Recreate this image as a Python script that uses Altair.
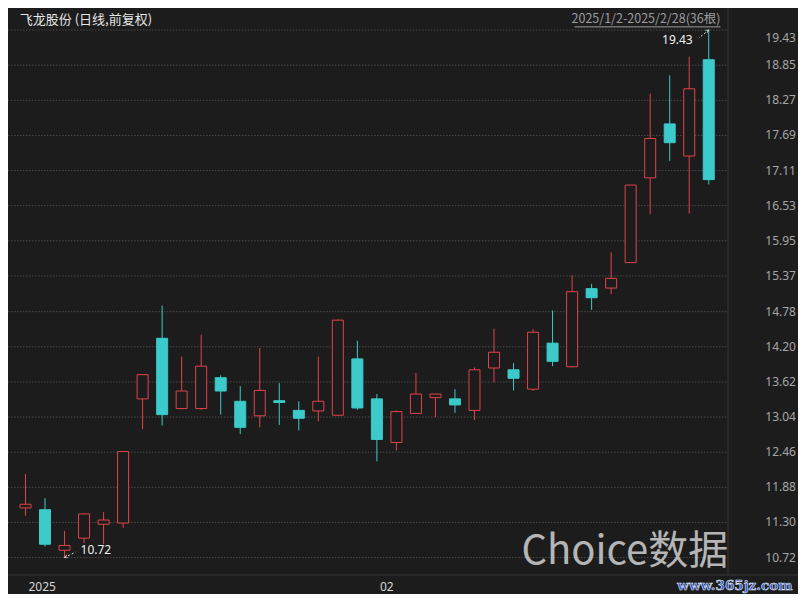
import altair as alt
import pandas as pd

# ---------------- data ----------------
dates = ["2025-01-02", "2025-01-03", "2025-01-06", "2025-01-07", "2025-01-08", "2025-01-09",
         "2025-01-10", "2025-01-13", "2025-01-14", "2025-01-15", "2025-01-16", "2025-01-17",
         "2025-01-20", "2025-01-21", "2025-01-22", "2025-01-23", "2025-01-24", "2025-01-27",
         "2025-02-05", "2025-02-06", "2025-02-07", "2025-02-10", "2025-02-11", "2025-02-12",
         "2025-02-13", "2025-02-14", "2025-02-17", "2025-02-18", "2025-02-19", "2025-02-20",
         "2025-02-21", "2025-02-24", "2025-02-25", "2025-02-26", "2025-02-27", "2025-02-28"]
opens = [11.54, 11.51, 10.84, 11.04, 11.27, 11.29, 13.34, 14.34, 13.18, 13.18, 13.69, 13.30,
         13.06, 13.31, 13.15, 13.14, 13.07, 14.00, 13.34, 12.62, 13.10, 13.36, 13.34, 13.15,
         13.85, 13.82, 13.50, 14.26, 13.87, 15.16, 15.17, 15.59, 16.99, 17.88, 17.35, 18.94]
highs = [12.10, 11.70, 11.16, 11.45, 11.47, 12.48, 13.75, 14.88, 14.04, 14.40, 13.73, 13.55,
         14.18, 13.60, 13.30, 14.04, 14.65, 14.30, 13.42, 13.15, 13.77, 13.42, 13.50, 13.86,
         14.50, 13.93, 14.49, 14.80, 15.38, 15.24, 15.76, 16.87, 18.38, 18.68, 18.99, 19.43]
lows = [11.41, 10.90, 10.72, 10.96, 10.94, 11.21, 12.84, 12.90, 13.17, 13.16, 13.08, 12.76,
        12.87, 12.91, 12.82, 12.97, 13.06, 13.16, 12.31, 12.49, 13.09, 13.04, 13.11, 12.99,
        13.61, 13.48, 13.47, 13.88, 13.86, 14.81, 15.07, 15.59, 16.39, 17.27, 16.40, 16.88]
closes = [11.60, 10.94, 10.92, 11.44, 11.34, 12.47, 13.74, 13.08, 13.47, 13.88, 13.47, 12.87,
          13.48, 13.28, 13.02, 13.30, 14.64, 13.19, 12.67, 13.13, 13.42, 13.42, 13.24, 13.82,
          14.11, 13.68, 14.44, 13.96, 15.11, 15.01, 15.33, 16.87, 17.64, 17.57, 18.46, 16.96]
y_ticks = [10.72, 11.30, 11.88, 12.46, 13.04, 13.62, 14.20, 14.78, 15.37, 15.95,
           16.53, 17.11, 17.69, 18.27, 18.85, 19.43]
x_label_idx = [0, 18]
x_label_text = ["2025", "02"]
title_text = "飞龙股份 (日线,前复权)"
range_text = "2025/1/2-2025/2/28(36根)"
max_idx, max_val = 35, 19.43
min_idx, min_val = 2, 10.72

# ---------------- styling ----------------
BG = "#1c1c1c"
RED = "#e0434b"
CYAN = "#3ccaca"
GRID = "#4a4a4a"
LINE = "#363636"
SX, SY = 0.98, 0.968
W, H = 720, 567
TOTAL_W, TOTAL_H = 790, 586

df = pd.DataFrame({"i": list(range(len(dates))), "date": dates, "open": opens,
                   "high": highs, "low": lows, "close": closes})
df["up"] = df["close"] >= df["open"]

xs = alt.Scale(domain=[-0.64, 35.73], nice=False, zero=False)
ys = alt.Scale(domain=[10.432, 19.794], nice=False, zero=False)
X = alt.X("i:Q", scale=xs, axis=None)

base = alt.Chart(df)

wick_up = base.transform_filter("datum.up").mark_rule(color=RED, strokeWidth=1).encode(
    x=X, y=alt.Y("low:Q", scale=ys, axis=None), y2="high:Q")
wick_dn = base.transform_filter("!datum.up").mark_rule(color=CYAN, strokeWidth=1).encode(
    x=X, y=alt.Y("low:Q", scale=ys, axis=None), y2="high:Q")
body_up = base.transform_filter("datum.up").mark_bar(
    fill=BG, stroke=RED, strokeWidth=1, size=11).encode(
    x=X, y=alt.Y("open:Q", scale=ys, axis=None), y2="close:Q")
body_dn = base.transform_filter("!datum.up").mark_bar(
    fill=CYAN, stroke=CYAN, strokeWidth=1, size=11).encode(
    x=X, y=alt.Y("open:Q", scale=ys, axis=None), y2="close:Q")

ticks_df = pd.DataFrame({"v": y_ticks})
grid = alt.Chart(ticks_df).mark_rule(color=GRID, strokeDash=[1.5, 1.5], strokeWidth=1).encode(
    y=alt.Y("v:Q", scale=ys, axis=None), x=alt.value(0), x2=alt.value(W))
ylab = alt.Chart(ticks_df).transform_filter("datum.v < 19.4").mark_text(
    align="right", baseline="middle", fontSize=12, font="Noto Sans", color="#a6a6a6").encode(
    y=alt.Y("v:Q", scale=ys, axis=None), x=alt.value(788), text=alt.Text("v:Q", format=".2f"))
ylab_top = alt.Chart(ticks_df).transform_filter("datum.v >= 19.4").mark_text(
    align="right", baseline="middle", fontSize=12, font="Noto Sans", color="#a6a6a6", dy=8).encode(
    y=alt.Y("v:Q", scale=ys, axis=None), x=alt.value(788), text=alt.Text("v:Q", format=".2f"))

xl_df = pd.DataFrame({"i": x_label_idx, "t": x_label_text})
xlab = alt.Chart(xl_df).mark_text(
    align="left", baseline="middle", fontSize=12, font="Noto Sans", color="#d6d6d6", dx=3).encode(
    x=X, y=alt.value(579), text="t:N")

one = pd.DataFrame({"k": [0]})
bottom_line = alt.Chart(one).mark_rule(color=LINE, strokeWidth=1).encode(
    x=alt.value(0), x2=alt.value(TOTAL_W), y=alt.value(H))
sep_line = alt.Chart(one).mark_rule(color=LINE, strokeWidth=1).encode(
    x=alt.value(W), y=alt.value(0), y2=alt.value(H))

title = alt.Chart(pd.DataFrame({"t": [title_text]})).mark_text(
    align="left", baseline="middle", fontSize=13, font="Noto Sans CJK SC", color="#e6e6e6").encode(
    x=alt.value(SX * 12), y=alt.value(SY * 12), text="t:N")
rng = alt.Chart(pd.DataFrame({"t": [range_text]})).mark_text(
    align="right", baseline="middle", fontSize=12.5, font="Noto Sans CJK SC", color="#9c9c9c").encode(
    x=alt.value(SX * 727), y=alt.value(SY * 11), text="t:N")
rng_ul = alt.Chart(one).mark_rule(color="#9c9c9c", strokeWidth=1).encode(
    x=alt.value(SX * 578), x2=alt.value(SX * 727), y=alt.value(SY * 19.5))

# annotations
mx_df = pd.DataFrame({"i": [max_idx], "v": [max_val], "t": [f"{max_val:.2f}"]})
mn_df = pd.DataFrame({"i": [min_idx], "v": [min_val], "t": [f"{min_val:.2f}"]})
mx_text = alt.Chart(mx_df).mark_text(
    align="right", baseline="middle", fontSize=12, font="Noto Sans", color="#f0f0f0",
    dx=-16, dy=10).encode(x=X, y=alt.Y("v:Q", scale=ys, axis=None), text="t:N")
mx_arrow = alt.Chart(mx_df).mark_rule(color="#e0e0e0", strokeDash=[2, 2], strokeWidth=1).encode(
    x=X, y=alt.Y("v:Q", scale=ys, axis=None), x2=alt.value(SX * 705), y2=alt.value(SY * 31))
mx_head = alt.Chart(mx_df).mark_point(
    shape="M-1,2L0,0L1,2", filled=False, color="#e0e0e0", size=10, angle=59, strokeWidth=1).encode(
    x=X, y=alt.Y("v:Q", scale=ys, axis=None))
mn_text = alt.Chart(mn_df).mark_text(
    align="left", baseline="middle", fontSize=12, font="Noto Sans", color="#f0f0f0",
    dx=16, dy=-8).encode(x=X, y=alt.Y("v:Q", scale=ys, axis=None), text="t:N")
mn_arrow = alt.Chart(mn_df).mark_rule(color="#e0e0e0", strokeDash=[2, 2], strokeWidth=1).encode(
    x=X, y=alt.Y("v:Q", scale=ys, axis=None), x2=alt.value(SX * 69), y2=alt.value(SY * 562))
mn_head = alt.Chart(mn_df).mark_point(
    shape="M-1,2L0,0L1,2", filled=False, color="#e0e0e0", size=10, angle=248, strokeWidth=1).encode(
    x=X, y=alt.Y("v:Q", scale=ys, axis=None))

wm = alt.Chart(pd.DataFrame({"t": ["Choice数据"]})).mark_text(
    align="left", baseline="alphabetic", fontSize=40, font="Noto Sans CJK SC",
    color="#d0d0d0", opacity=0.85).encode(
    x=alt.value(SX * 524), y=alt.value(SY * 574), text="t:N")
site = alt.Chart(pd.DataFrame({"t": ["www.365jz.com"]})).mark_text(
    align="left", baseline="middle", fontSize=13.5, font="DejaVu Serif", fontWeight="bold",
    color="#3456c0", stroke="#dfe4f5", strokeWidth=0.6).encode(
    x=alt.value(SX * 683), y=alt.value(SY * 597), text="t:N")

chart = alt.layer(
    grid, sep_line, bottom_line,
    wick_up, wick_dn, body_up, body_dn,
    ylab, ylab_top, xlab,
    title, rng, rng_ul,
    mx_arrow, mx_head, mx_text, mn_arrow, mn_head, mn_text,
    wm, site,
).properties(
    width=W, height=H,
    padding={"left": 0, "top": 0, "right": TOTAL_W - W, "bottom": TOTAL_H - H},
    autosize=alt.AutoSizeParams(type="none"),
    background=BG,
).configure_view(stroke=None)

chart.save("out.html", embed_options={"renderer": "svg", "actions": False})
